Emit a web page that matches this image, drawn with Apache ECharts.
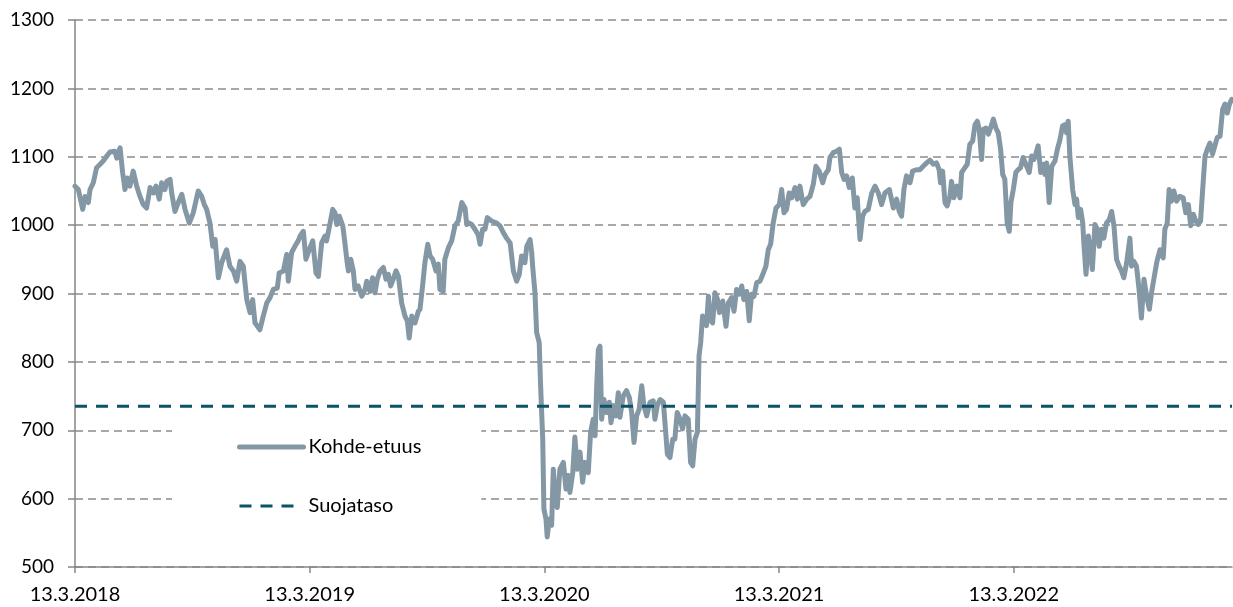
<!DOCTYPE html>
<html lang="fi">
<head>
    <meta charset="UTF-8">
    <title>Kohde-etuus</title>
    <script src="https://cdn.jsdelivr.net/npm/echarts@6/dist/echarts.min.js"></script>
    <style>
        html, body { margin: 0; padding: 0; background: #fff; }
        #chart { width: 1233px; height: 607px; }
    </style>
</head>
<body>
<div id="chart"></div>
<script>
    // aika vuosina alkaen 13.3.2018
    var vuodet = [
        0.000,0.014,0.033,0.043,0.057,0.064,0.078,0.092,0.107,0.121,
        0.135,0.149,0.170,0.178,0.192,0.203,0.213,0.223,0.234,0.248,
        0.263,0.277,0.291,0.305,0.320,0.334,0.345,0.359,0.369,0.383,
        0.391,0.405,0.412,0.426,0.440,0.455,0.469,0.487,0.504,0.525,
        0.540,0.551,0.561,0.575,0.587,0.597,0.611,0.625,0.646,0.660,
        0.675,0.689,0.703,0.717,0.732,0.746,0.757,0.767,0.788,0.802,
        0.817,0.831,0.845,0.862,0.870,0.888,0.902,0.909,0.923,0.937,
        0.951,
        0.959,0.973,0.984,0.998,1.013,1.027,1.037,1.051,1.065,1.072,
        1.087,1.098,1.108,1.115,1.126,1.141,1.150,1.158,1.165,1.175,
        1.186,1.193,1.207,1.222,1.236,1.243,1.257,1.268,1.278,1.288,
        1.300,1.314,1.325,1.335,1.345,1.356,1.368,1.378,1.392,1.406,
        1.416,1.424,1.435,1.449,1.463,1.470,1.481,1.491,1.503,1.513,
        1.524,1.538,1.548,1.555,1.569,1.576,1.591,1.605,1.619,1.633,
        1.648,1.662,1.669,1.680,1.690,1.704,1.718,1.726,1.737,1.747,
        1.757,1.775,1.797,1.811,1.825,1.839,1.854,1.868,1.882,1.893,
        1.903,1.917,1.925,1.939,1.946,
        1.950,1.960,1.967,1.978,1.984,1.993,1.998,2.007,2.012,2.021,
        2.031,2.038,2.045,2.055,2.066,2.081,2.092,2.102,2.109,2.121,
        2.130,2.140,2.152,2.163,2.173,2.187,2.197,2.208,2.216,2.223,
        2.230,2.237,2.244,2.254,2.265,2.277,2.284,2.294,2.305,2.315,
        2.322,2.336,2.350,2.362,2.372,2.382,2.393,2.404,2.415,2.424,
        2.436,2.450,2.464,2.471,2.481,2.493,2.507,2.517,2.524,2.535,
        2.547,2.556,2.566,2.578,2.589,2.599,2.613,2.623,2.632,2.642,
        2.652,2.659,2.666,2.674,2.684,2.691,2.699,2.706,2.717,2.727,
        2.737,2.746,
        2.760,2.774,2.784,2.798,2.808,2.819,2.830,2.841,2.850,2.862,
        2.873,2.883,2.893,2.905,2.919,2.933,2.944,2.954,2.964,2.975,
        2.987,3.001,3.011,3.021,3.032,3.043,3.054,3.068,3.078,3.089,
        3.103,3.118,3.132,3.146,3.157,3.171,3.186,3.196,3.210,3.217,
        3.231,3.245,3.257,3.267,3.277,3.288,3.299,3.312,3.323,3.333,
        3.345,3.356,3.366,3.380,3.395,3.409,3.423,3.437,3.451,3.470,
        3.487,3.501,3.512,3.522,3.532,3.543,3.558,3.569,3.586,3.600,
        3.614,3.629,3.643,
        3.657,3.671,3.682,3.688,3.697,3.707,3.716,3.728,3.735,3.745,
        3.757,3.771,3.778,3.792,3.802,3.813,3.825,3.835,3.845,3.853,
        3.863,3.870,3.882,3.892,3.906,3.913,3.924,3.934,3.944,3.953,
        3.962,3.972,3.981,3.988,3.998,4.009,4.019,4.029,4.040,4.055,
        4.066,4.076,4.086,4.094,4.104,4.115,4.126,4.133,4.140,4.151,
        4.162,4.176,4.186,4.197,4.208,4.218,4.225,4.232,4.239,4.251,
        4.261,4.268,4.275,4.285,4.294,4.299,4.308,4.318,4.328,4.335,
        4.346,4.356,4.364,4.374,4.384,4.395,4.407,4.417,4.427,4.438,
        4.449,4.459,4.469,4.481,4.495,4.502,4.512,4.523,4.534,4.544,
        4.555,4.566,4.578,4.587,4.597,4.609,4.623,4.637,4.644,4.654,
        4.662,4.672,4.682,4.694,4.708,4.722,4.733,4.744,4.754,4.765,
        4.776,4.786,4.796,4.805,4.815,4.825,4.836,4.847,4.857,4.867,
        4.879,4.890,4.900,4.910,4.919,4.929
    ];

    var kohdeEtuus = [
        1057,1052,1023,1042,1033,1052,1062,1084,1089,1094,
        1101,1107,1108,1098,1113,1077,1052,1069,1057,1079,
        1057,1042,1030,1025,1055,1047,1057,1038,1062,1052,
        1064,1067,1047,1020,1033,1045,1023,1003,1018,1050,
        1042,1030,1023,1003,969,979,923,945,964,940,
        933,918,947,940,891,872,891,857,847,867,
        886,894,906,908,930,933,957,918,960,969,
        977,
        984,991,950,964,977,930,925,974,984,977,
        1003,1023,1018,1001,1013,999,974,950,933,950,
        933,906,911,896,906,918,903,923,901,921,
        933,938,921,928,911,921,933,925,886,867,
        860,835,867,857,874,877,911,945,972,955,
        950,933,943,906,903,950,967,977,999,1006,
        1033,1025,1001,1003,1001,994,986,972,994,994,
        1011,1006,1003,999,989,981,974,933,918,928,
        955,945,969,979,960,
        940,901,843,828,765,687,585,570,544,570,
        561,643,609,587,643,653,614,634,609,638,
        690,643,668,624,653,638,697,716,692,765,
        818,823,716,745,726,741,711,736,721,755,
        719,750,758,748,726,682,721,731,765,736,
        721,741,743,716,736,745,741,697,665,660,
        687,687,726,716,702,721,716,653,648,687,
        697,809,828,867,862,853,896,862,857,901,
        892,872,
        889,852,886,894,874,906,899,911,891,903,
        860,899,896,916,918,930,940,964,972,1003,
        1025,1030,1052,1018,1023,1047,1040,1055,1038,1057,
        1030,1038,1042,1060,1086,1079,1062,1074,1081,1099,
        1106,1108,1111,1077,1067,1072,1055,1069,1025,1040,
        979,1013,1020,1023,1047,1057,1047,1030,1047,1052,
        1025,1038,1020,1013,1052,1072,1062,1079,1081,1081,
        1086,1091,1095,
        1089,1091,1081,1062,1079,1033,1028,1042,1064,1040,
        1057,1040,1077,1084,1089,1118,1123,1147,1152,1140,
        1096,1140,1142,1133,1147,1155,1142,1135,1111,1074,
        1067,1003,991,1033,1052,1077,1081,1084,1099,1086,
        1077,1101,1096,1104,1116,1077,1089,1074,1091,1033,
        1086,1094,1111,1125,1145,1147,1135,1152,1101,1052,
        1030,1038,1011,1023,1003,972,928,984,955,935,
        1001,994,969,994,981,1003,1008,1020,999,950,
        940,933,923,945,981,940,947,940,906,864,
        921,896,877,901,921,945,964,952,994,1003,
        1052,1035,1050,1035,1042,1040,1018,1030,999,1016,
        1006,1001,1006,1052,1101,1111,1120,1104,1116,1128,
        1130,1169,1177,1164,1177,1184
    ];

    var suojataso = 735;
    var xLabels = ['13.3.2018', '13.3.2019', '13.3.2020', '13.3.2021', '13.3.2022'];
    var xTicks = [0, 1, 2, 3, 4];
    var xMax = 4.93;

    var fontti = 'Lato, "Open Sans", sans-serif';
    var harmaa = '#8497a5';
    var teal = '#0b5366';
    var piiloon = {color: 'transparent', borderWidth: 0, opacity: 0};

    var kohdeData = vuodet.map(function (t, i) { return [t, kohdeEtuus[i]]; });
    var suojaData = [[0, suojataso], [xMax, suojataso]];

    var chart = echarts.init(document.getElementById('chart'), null, {renderer: 'canvas'});
    chart.setOption({
        animation: false,
        backgroundColor: '#fff',
        grid: {left: 75, right: 1, top: 20, bottom: 40, containLabel: false, outerBoundsMode: 'none'},
        legend: {
            orient: 'vertical',
            left: 172,
            top: 417,
            padding: [20, 60, 20, 65],
            backgroundColor: '#fff',
            itemWidth: 64,
            itemHeight: 20,
            itemGap: 39,
            textStyle: {fontFamily: fontti, fontSize: 20, color: '#000', lineHeight: 20},
            data: [
                {name: 'Kohde-etuus', itemStyle: piiloon, lineStyle: {color: harmaa, width: 5, cap: 'round'}},
                // kolme viivaa kuten alkuperäisessä selitteessä
                {name: 'Suojataso', itemStyle: piiloon, lineStyle: {color: teal, width: 3, type: [12, 9, 12, 9, 12, 30]}}
            ]
        },
        xAxis: {
            type: 'value',
            min: 0,
            max: xMax,
            axisLine: {show: true, lineStyle: {color: '#868686', width: 1.5}},
            axisTick: {show: true, length: 6, customValues: xTicks, lineStyle: {color: '#868686', width: 1.5}},
            axisLabel: {
                customValues: xTicks,
                margin: 18,
                fontFamily: fontti,
                fontSize: 20,
                color: '#000',
                formatter: function (v) { return xLabels[Math.round(v)]; }
            },
            splitLine: {show: false}
        },
        yAxis: {
            type: 'value',
            min: 500,
            max: 1300,
            interval: 100,
            axisLine: {show: true, lineStyle: {color: '#868686', width: 1.5}},
            axisTick: {show: true, length: 7, lineStyle: {color: '#868686', width: 1.5}},
            axisLabel: {
                margin: 21, fontFamily: fontti, fontSize: 19, color: '#000',
                formatter: function (v) { return String(v); }
            },
            splitLine: {show: true, lineStyle: {color: '#8c8c8c', width: 1.5, type: [8, 5]}}
        },
        series: [
            {
                name: 'Kohde-etuus',
                type: 'line',
                symbol: 'none',
                showSymbol: false,
                color: harmaa,
                lineStyle: {color: harmaa, width: 5, cap: 'round', join: 'round'},
                data: kohdeData
            },
            {
                name: 'Suojataso',
                type: 'line',
                symbol: 'none',
                showSymbol: false,
                color: teal,
                lineStyle: {color: teal, width: 3, type: [12, 9]},
                data: suojaData
            }
        ]
    });
</script>
</body>
</html>
